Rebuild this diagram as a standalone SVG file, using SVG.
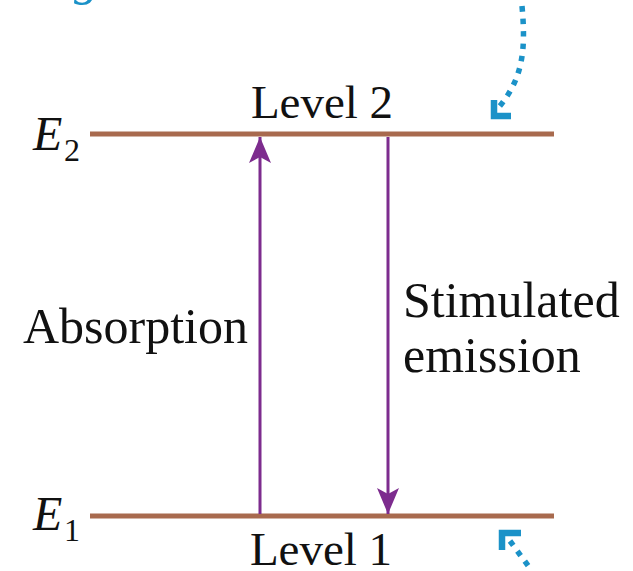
<svg xmlns="http://www.w3.org/2000/svg" width="633" height="571" viewBox="0 0 633 571">
  <style>
    .lvl { stroke: #a86a4e; stroke-width: 5; fill: none; }
    text { font-family: "Liberation Serif", "DejaVu Serif", serif; fill: #111111; }
    .ital { font-style: italic; }
    .arrow { stroke: #7d2c8e; stroke-width: 3; fill: none; }
    .dots { stroke: #1b92c8; stroke-width: 5.5; fill: none; stroke-dasharray: 5.5 7; }
    .chev { stroke: #1b92c8; stroke-width: 6.5; fill: none; stroke-linejoin: miter; stroke-linecap: butt; }
  </style>
  <defs>
    <marker id="head" viewBox="0 0 26 22" refX="26" refY="11" markerWidth="26" markerHeight="22" markerUnits="userSpaceOnUse" orient="auto">
      <path d="M0,0 L26,11 L0,22 L6,11 Z" fill="#7d2c8e"/>
    </marker>
  </defs>
  <rect width="633" height="571" fill="#ffffff"/>

  <g id="cut-text">
    <text class="ital" x="74" y="-6" font-size="50" font-family="Liberation Serif, DejaVu Serif, serif" style="fill:#1b92c8">g</text>
  </g>

  <g id="level2">
    <line class="lvl" x1="90" y1="134" x2="554" y2="134"/>
    <text class="ital" x="33" y="150" font-size="48" font-family="Liberation Serif, DejaVu Serif, serif">E</text>
    <text x="64" y="161" font-size="32" font-family="Liberation Serif, DejaVu Serif, serif">2</text>
    <text x="322" y="118" font-size="47" text-anchor="middle" font-family="Liberation Serif, DejaVu Serif, serif">Level 2</text>
  </g>

  <g id="level1">
    <line class="lvl" x1="90" y1="516" x2="554" y2="516"/>
    <text class="ital" x="33" y="530" font-size="48" font-family="Liberation Serif, DejaVu Serif, serif">E</text>
    <text x="64" y="541" font-size="32" font-family="Liberation Serif, DejaVu Serif, serif">1</text>
    <text x="321" y="565" font-size="47" text-anchor="middle" font-family="Liberation Serif, DejaVu Serif, serif">Level 1</text>
  </g>

  <g id="absorption-label">
    <text x="23" y="343" font-size="50" font-family="Liberation Serif, DejaVu Serif, serif">Absorption</text>
  </g>

  <g id="stimulated-label">
    <text x="403" y="317" font-size="50" font-family="Liberation Serif, DejaVu Serif, serif">Stimulated</text>
    <text x="403" y="372" font-size="50" font-family="Liberation Serif, DejaVu Serif, serif">emission</text>
  </g>

  <g id="connectors">
    <line class="arrow" x1="260" y1="514" x2="260" y2="137" marker-end="url(#head)"/>
    <line class="arrow" x1="388" y1="137" x2="388" y2="514" marker-end="url(#head)"/>
    <path class="dots" d="M522,6 C526,50 523,78 499,107"/>
    <polyline class="chev" points="494,100 494,116 511,116"/>
    <path class="dots" d="M510,541 L532,571"/>
    <polyline class="chev" points="521,533 502,533 502,550"/>
  </g>
</svg>
